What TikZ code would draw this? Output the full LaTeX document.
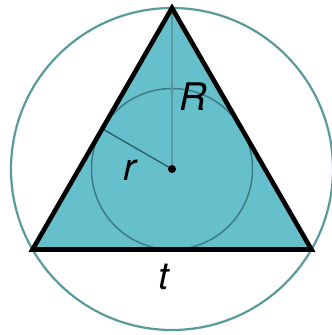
\documentclass[tikz,border=0pt]{standalone}
\usepackage{fontspec}
\setmainfont{TeX Gyre Heros}
\definecolor{trifill}{HTML}{66C0CC}
\definecolor{outerline}{HTML}{5A9A9C}
\definecolor{innerline}{HTML}{3E7C84}
\definecolor{radline}{HTML}{2E5A60}

\begin{document}
\begin{tikzpicture}[
  x=1pt, y=1pt,
  font=\fontsize{38}{40}\selectfont\itshape,
  edge/.style={draw=black, line width=4.6pt, line join=miter},
  outer/.style={draw=outerline, line width=2.2pt},
  inner/.style={draw=innerline, line width=1.5pt},
  radius/.style={draw=radline, line width=1.3pt},
  label/.style={inner sep=0pt}
]
\useasboundingbox (-172,-166) rectangle (160,169);

% centre, vertices and the foot of the inner radius
\coordinate (O) at (0,0);
\coordinate (A) at (90:161);
\coordinate (B) at (210:161);
\coordinate (C) at (330:161);
\coordinate (T) at (150:80.5);

\fill[trifill] (A) -- (B) -- (C) -- cycle;
\draw[inner] (O) circle (80.5);
\draw[radius, draw=outerline] (O) -- (A);
\draw[radius] (O) -- (T);
\draw[outer] (O) circle (161);
\draw[edge] (A) -- (B) -- (C) -- cycle;
\fill (O) circle (4);

\node[label] (lR) at (21,72) {R};
\node[label] (lr) at (-42,-1) {r};
\node[label] (lt) at (-8,-108) {t};
\end{tikzpicture}
\end{document}
